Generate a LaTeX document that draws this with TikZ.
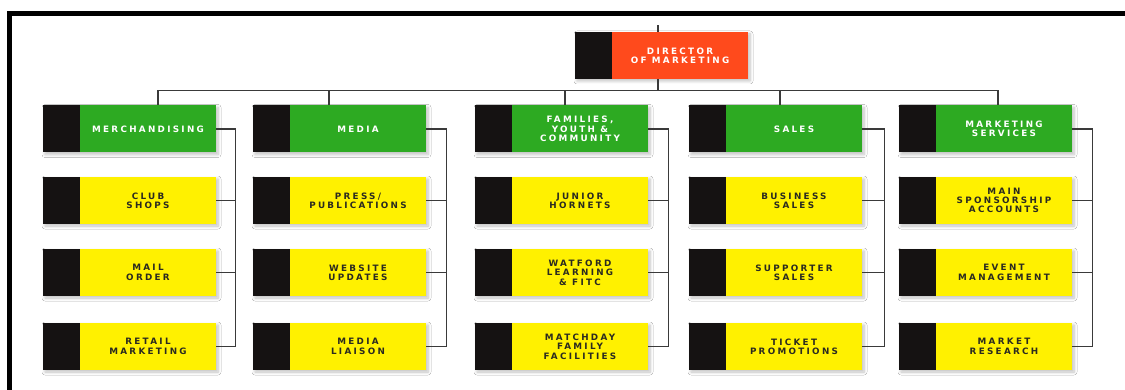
\documentclass[tikz,border=0pt]{standalone}
\usepackage{fontspec}
\newfontfamily\boxfont[LetterSpace=26]{DejaVu Sans}
\usetikzlibrary{shadows.blur}
\definecolor{dred}{HTML}{FF4A1C}
\definecolor{hgreen}{HTML}{2DAA22}
\definecolor{syellow}{HTML}{FFF100}
\definecolor{boxblack}{HTML}{151212}
\definecolor{linegray}{HTML}{3A3A3A}
\definecolor{txtdark}{HTML}{2A2A20}
\newcommand\bxtext[1]{\hbox to 37pt{}\parbox[c]{136pt}{\centering\boxfont\bfseries\fontsize{8.8}{9.3}\selectfont #1}}
\tikzset{
  box/.style={inner sep=0pt, minimum width=173pt, minimum height=47pt,
    blur shadow={shadow xshift=2pt, shadow yshift=-2pt, shadow blur steps=6, shadow blur radius=3pt, shadow opacity=25},
    path picture={\fill[boxblack] (path picture bounding box.north west) rectangle ([xshift=37pt]path picture bounding box.south west);}},
  dirbox/.style={box, fill=dred, text=white},
  head/.style={box, fill=hgreen, text=white},
  sub/.style={box, fill=syellow, text=txtdark},
  link/.style={draw=linegray, line width=1.2pt},
}
\begin{document}
\begin{tikzpicture}[x=1pt,y=-1pt]
\useasboundingbox (0,0) rectangle (1125,390);
\fill[white] (0,0) rectangle (1125,390);
% frame
\fill[black] (7,11) rectangle (1125,16);
\fill[black] (7,11) rectangle (12,390);

% director
\node[dirbox] (dir) at (661.5,55.5) {\bxtext{DIRECTOR\\OF MARKETING}};

% heads
\node[head] (merch) at (129.5,129) {\bxtext{MERCHANDISING}};
\node[head] (media) at (339.5,129) {\bxtext{MEDIA}};
\node[head] (fam)   at (561.5,129) {\bxtext{FAMILIES,\\YOUTH \&\\COMMUNITY}};
\node[head] (sales) at (775.5,129) {\bxtext{SALES}};
\node[head] (ms)    at (985.5,129) {\bxtext{MARKETING\\SERVICES}};

% column 1
\node[sub] (m1) at (129.5,200.5) {\bxtext{CLUB\\SHOPS}};
\node[sub] (m2) at (129.5,272.5) {\bxtext{MAIL\\ORDER}};
\node[sub] (m3) at (129.5,346.5) {\bxtext{RETAIL\\MARKETING}};
% column 2
\node[sub] (d1) at (339.5,200.5) {\bxtext{PRESS/\\PUBLICATIONS}};
\node[sub] (d2) at (339.5,272.5) {\bxtext{WEBSITE\\UPDATES}};
\node[sub] (d3) at (339.5,346.5) {\bxtext{MEDIA\\LIAISON}};
% column 3
\node[sub] (f1) at (561.5,200.5) {\bxtext{JUNIOR\\HORNETS}};
\node[sub] (f2) at (561.5,272.5) {\bxtext{WATFORD\\LEARNING\\\& FITC}};
\node[sub] (f3) at (561.5,346.5) {\bxtext{MATCHDAY\\FAMILY\\FACILITIES}};
% column 4
\node[sub] (s1) at (775.5,200.5) {\bxtext{BUSINESS\\SALES}};
\node[sub] (s2) at (775.5,272.5) {\bxtext{SUPPORTER\\SALES}};
\node[sub] (s3) at (775.5,346.5) {\bxtext{TICKET\\PROMOTIONS}};
% column 5
\node[sub] (k1) at (985.5,200.5) {\bxtext{MAIN\\SPONSORSHIP\\ACCOUNTS}};
\node[sub] (k2) at (985.5,272.5) {\bxtext{EVENT\\MANAGEMENT}};
\node[sub] (k3) at (985.5,346.5) {\bxtext{MARKET\\RESEARCH}};

% director connectors
\coordinate (dtop) at ([xshift=-3.5pt]dir.north);
\draw[link] (dtop) -- ++(0,-7);
\draw[link] ([xshift=-3.5pt]dir.south) -- ++(0,11) -| ([xshift=28.5pt]merch.north);
\draw[link] ([xshift=-3.5pt]dir.south) -- ++(0,11) -| ([xshift=-10.5pt]media.north);
\draw[link] ([xshift=-3.5pt]dir.south) -- ++(0,11) -| ([xshift=3.5pt]fam.north);
\draw[link] ([xshift=-3.5pt]dir.south) -- ++(0,11) -| ([xshift=4.5pt]sales.north);
\draw[link] ([xshift=-3.5pt]dir.south) -- ++(0,11) -| ([xshift=12.5pt]ms.north);

% brackets
\foreach \h/\a/\b/\c/\d in {merch/m1/m2/m3/19, media/d1/d2/d3/20, fam/f1/f2/f3/20, sales/s1/s2/s3/22, ms/k1/k2/k3/20}{
  \draw[link] (\h.east) -- ++(\d,0) |- (\c.east);
  \draw[link] (\a.east) -- ++(\d,0);
  \draw[link] (\b.east) -- ++(\d,0);
}
\end{tikzpicture}
\end{document}
